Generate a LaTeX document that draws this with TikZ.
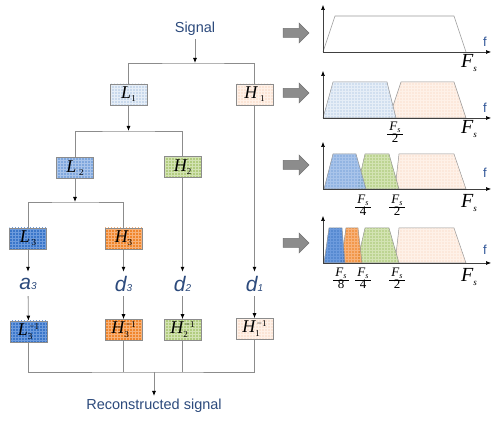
\documentclass[tikz,border=0pt]{standalone}
\usepackage{fontspec}
\usetikzlibrary{arrows.meta,patterns}
\newfontfamily\arial{Liberation Sans}
\newfontfamily\tms{Liberation Serif}
\definecolor{txtblue}{HTML}{2C4A7C}
\definecolor{fblue}{HTML}{2F5597}
\definecolor{cLa}{HTML}{C9D9EC}\definecolor{cLap}{HTML}{E6EEF7}
\definecolor{cLb}{HTML}{7FA7DD}\definecolor{cLbp}{HTML}{A9C4EA}
\definecolor{cLc}{HTML}{3A76C9}\definecolor{cLcp}{HTML}{6D9BDD}
\definecolor{cHa}{HTML}{FBE4D5}\definecolor{cHap}{HTML}{FEF1E8}
\definecolor{cHb}{HTML}{B2CC7F}\definecolor{cHbp}{HTML}{D3E3B3}
\definecolor{cHc}{HTML}{F0862C}\definecolor{cHcp}{HTML}{F7B27A}
\newcommand\bxt[3]{{\tms\fontsize{18}{18}\selectfont\itshape #1}#2{\tms\fontsize{9}{9}\selectfont\raisebox{-3pt}{#3}}}
\newcommand\bxi[2]{{\tms\fontsize{18}{18}\selectfont\itshape #1}{\tms\fontsize{9}{9}\selectfont\rlap{\raisebox{-4pt}{#2}}\raisebox{6pt}{\,−1}}}
\newcommand\lbl[2]{{\arial\fontsize{21}{21}\selectfont\itshape #1\fontsize{10}{10}\selectfont #2}}
\newcommand\frc[1]{{\tms\fontsize{13}{13}\selectfont\renewcommand\arraystretch{0.95}\begin{tabular}{@{\,}c@{\,}}\itshape F{\fontsize{8}{8}\selectfont\raisebox{-2pt}{s}}\\\hline #1\end{tabular}}}
\newcommand\bigF{{\tms\fontsize{20}{20}\selectfont\itshape F}{\tms\fontsize{9}{9}\selectfont\itshape\raisebox{-4pt}{s}}}
\tikzset{
  fbox/.style n args={2}{draw=black!45, line width=0.6pt, minimum width=37pt, minimum height=21pt, inner sep=0pt,
     preaction={fill=#1}, preaction={pattern=grid, pattern color=#2}},
  ln/.style={draw=black!45, line width=0.8pt},
  arr/.style={ln, -{Latex[length=5pt,width=4pt,black]}},
  ttl/.style={text=txtblue, font=\arial\fontsize{14.5}{15}\selectfont, inner sep=3pt},
  dl/.style={text=txtblue, minimum height=24pt, inner sep=0pt},
  axis/.style={draw=black!75, line width=0.6pt, -{Latex[length=5pt,width=4pt,black]}},
  trap/.style n args={2}{draw=black!40, line width=0.5pt, preaction={fill=#1, fill opacity=0.85}, preaction={pattern=grid, pattern color=#2}},
  fl/.style={text=fblue, font=\arial\fontsize{13}{13}\selectfont, inner sep=0pt},
  fat/.style={fill=black!45, draw=black!55, line width=0.5pt},
}
\begin{document}
\begin{tikzpicture}[x=1pt,y=-1pt]
\useasboundingbox (0,0) rectangle (499,427);
% ---------- left tree ----------
\node[ttl] (sig) at (195,29) {Signal};
\coordinate (j1) at (195,63);
\node[fbox={cLa}{cLap}] (L1) at (128.5,94.5) {\bxt{L}{}{1}};
\node[fbox={cHa}{cHap}] (H1) at (254.5,94.5) {\bxt{H}{\;}{1}};
\draw[arr] (sig) -- (j1);
\draw[ln] (L1.north) |- (j1) -| (H1.north);
\coordinate (j2) at (128.5,131);
\node[fbox={cLb}{cLbp}] (L2) at (75,168) {\bxt{L}{\;}{2}};
\node[fbox={cHb}{cHbp}] (H2) at (182.5,167) {\bxt{H}{}{2}};
\draw[arr] (L1) -- (j2);
\draw[ln] (L2.north) |- (j2) -| (H2.north);
\coordinate (j3) at (75,202);
\node[fbox={cLc}{cLcp}] (L3) at (28,238.5) {\bxt{L}{\,}{3}};
\node[fbox={cHc}{cHcp}] (H3) at (123.5,238.5) {\bxt{H}{}{3}};
\draw[arr] (L2) -- (j3);
\draw[ln] (L3.north) |- (j3) -| (H3.north);
% labels
\node[dl] (a3) at (28,284) {\lbl{a}{3}};
\node[dl] (d3) at (123.5,284) {\lbl{d}{3}};
\node[dl] (d2) at (182.5,284) {\lbl{d}{2}};
\node[dl] (d1) at (254.5,284) {\lbl{d}{1}};
\draw[arr] (L3) -- (a3);
\draw[arr] (H3) -- (d3);
\draw[arr] (H2) -- (d2);
\draw[arr] (H1) -- (d1);
% inverse
\node[fbox={cLc}{cLcp}] (L3i) at (28.5,331.5) {\bxi{L}{3}};
\node[fbox={cHc}{cHcp}] (H3i) at (123.5,330) {\bxi{H}{3}};
\node[fbox={cHb}{cHbp}] (H2i) at (182.5,330) {\bxi{H}{2}};
\node[fbox={cHa}{cHap}] (H1i) at (254.5,329) {\bxi{H}{1}};
\draw[arr] (a3) -- (L3i);
\draw[arr] (d3) -- (H3i);
\draw[arr] (d2) -- (H2i);
\draw[arr] (d1) -- (H1i);
\coordinate (jb) at (154,372);
\draw[ln] (L3i.south) |- (jb) -| (H1i.south);
\draw[ln] (H3i.south) -- (H3i.south |- jb);
\draw[ln] (H2i.south) -- (H2i.south |- jb);
\node[ttl, anchor=north] (rec) at (154,396) {Reconstructed signal};
\draw[arr] (jb) -- (rec.north);
% ---------- right spectra ----------
\foreach \cy in {33,93,165,243}{
  \draw[fat] (283,\cy-4.5) -- (299,\cy-4.5) -- (299,\cy-10) -- (309,\cy) -- (299,\cy+10) -- (299,\cy+4.5) -- (283,\cy+4.5) -- cycle;
}
% chart 1
\draw[draw=black!40, line width=0.6pt] (323,52) -- (335,16) -- (454,16) -- (466,52);
\draw[axis] (323,52) -- (491,52);
\draw[axis] (323,52) -- (323,5);
\node[fl] (f1) at (485,42) {f};
\node (F1) at (469,63) {\bigF};
% chart 2
\draw[trap={cHa}{cHap}] (389,118) -- (401,82) -- (454,82) -- (466,118) -- cycle;
\draw[trap={cLa}{cLap}] (323,118) -- (333,82) -- (387,82) -- (396,118) -- cycle;
\draw[axis] (323,118) -- (491,118);
\draw[axis] (323,118) -- (323,71);
\node[fl] (f2) at (485,108) {f};
\node (F2) at (469,129) {\bigF};
\node (q2a) at (395,134) {\frc{2}};
% chart 3
\draw[trap={cHa}{cHap}] (395,189) -- (399,154) -- (454,154) -- (466,189) -- cycle;
\draw[trap={cHb}{cHbp}] (357,189) -- (365,154) -- (389,154) -- (399,189) -- cycle;
\draw[trap={cLb}{cLbp}] (324,189) -- (333,154) -- (356,154) -- (366,189) -- cycle;
\draw[axis] (323,189) -- (491,189);
\draw[axis] (323,189) -- (323,142);
\node[fl] (f3) at (485,173) {f};
\node (F3) at (469,203) {\bigF};
\node (q3a) at (363,207) {\frc{4}};
\node (q3b) at (397,207) {\frc{2}};
% chart 4
\draw[trap={cHa}{cHap}] (395,263) -- (399,228) -- (454,228) -- (466,263) -- cycle;
\draw[trap={cHb}{cHbp}] (357,263) -- (365,228) -- (389,228) -- (399,263) -- cycle;
\draw[trap={cHc}{cHcp}] (341,263) -- (346,228) -- (358,228) -- (362,263) -- cycle;
\draw[trap={cLc}{cLcp}] (324,263) -- (329,228) -- (342,228) -- (345,263) -- cycle;
\draw[axis] (323,263) -- (491,263);
\draw[axis] (323,263) -- (323,216);
\node[fl] (f4) at (485,250) {f};
\node (F4) at (469,277) {\bigF};
\node (q4a) at (341,280) {\frc{8}};
\node (q4b) at (363,280) {\frc{4}};
\node (q4c) at (397,280) {\frc{2}};
\end{tikzpicture}
\end{document}
